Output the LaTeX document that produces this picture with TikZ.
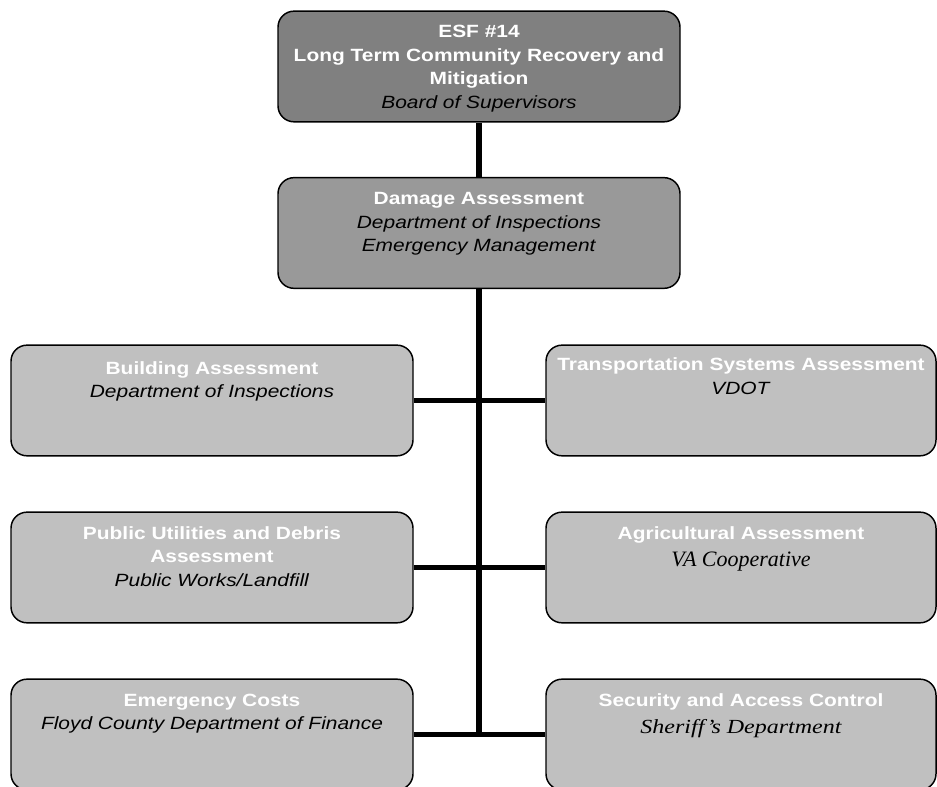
\documentclass[tikz,border=0pt]{standalone}
\usepackage{fontspec}
\setmainfont{Liberation Sans}[FakeStretch=1.18]
\newfontfamily\timesfont{Liberation Serif}[FakeStretch=1.2]
\newfontfamily\timesplain{Liberation Serif}
\usetikzlibrary{positioning}
\definecolor{esfdark}{RGB}{128,128,128}
\definecolor{esfmid}{RGB}{153,153,153}
\definecolor{esflight}{RGB}{192,192,192}
\newcommand\esfhead[1]{\textcolor{white}{\textbf{#1}}}
\newcommand\esfdept[1]{\textit{#1}}
\newcommand\esfserif[1]{{\timesfont\itshape\fontsize{15}{17.6}\selectfont #1}}
\newcommand\esfcoop[1]{{\timesplain\itshape\fontsize{16.5}{17.6}\selectfont #1}}

\tikzset{
  unitbox/.style={draw, rounded corners=12pt, line width=1.1pt, inner sep=0pt,
    minimum height=83pt, minimum width=301.5pt, fill=esflight},
  rightbox/.style={unitbox, minimum width=292.5pt},
  lbl/.style={anchor=north, align=center, inner sep=0pt,
    font=\fontsize{13.3}{17.6}\selectfont},
  link/.style={line width=3.8pt}
}

\begin{document}
\begin{tikzpicture}[x=0.75pt,y=0.75pt]
    \useasboundingbox (0,0) rectangle (937,787);

    % Head of the chart
    \node[unitbox, fill=esfdark] (esf) at (479,720.5) {};
    \node[unitbox, fill=esfmid] (dmg) at (479,554) {};

    % Assessment units
    \node[unitbox] (bldg) at (212,386.5) {};
    \node[rightbox] (trans) at (741,386.5) {};
    \node[unitbox] (util) at (212,219.5) {};
    \node[rightbox] (agri) at (741,219.5) {};
    \node[unitbox] (cost) at (212,52.5) {};
    \node[rightbox] (sec) at (741,52.5) {};

    % Texts
    \node[lbl, below=11pt of esf.north] (esftxt)
        {\esfhead{ESF \#14}\\ \esfhead{Long Term Community Recovery and}\\
         \esfhead{Mitigation}\\ \esfdept{Board of Supervisors}};
    \node[lbl, below=11.5pt of dmg.north] (dmgtxt)
        {\esfhead{Damage Assessment}\\ \esfdept{Department of Inspections}\\
         \esfdept{Emergency Management}};
    \node[lbl, below=12.5pt of bldg.north] (bldgtxt)
        {\esfhead{Building Assessment}\\ \esfdept{Department of Inspections}};
    \node[lbl, below=10pt of trans.north] (transtxt)
        {\esfhead{Transportation Systems Assessment}\\ \esfdept{VDOT}};
    \node[lbl, below=11pt of util.north] (utiltxt)
        {\esfhead{Public Utilities and Debris}\\ \esfhead{Assessment}\\
         \esfdept{Public Works/Landfill}};
    \node[lbl, below=11pt of agri.north] (agritxt)
        {\esfhead{Agricultural Assessment}\\[2.5pt] \esfcoop{VA Cooperative}};
    \node[lbl, below=11.5pt of cost.north] (costtxt)
        {\esfhead{Emergency Costs}\\ \esfdept{Floyd County Department of Finance}};
    \node[lbl, below=11.5pt of sec.north] (sectxt)
        {\esfhead{Security and Access Control}\\[2pt] \esfserif{Sheriff’s Department}};

    % Connectors
    \coordinate (spine) at (dmg.south |- cost.east);
    \draw[link] (esf.south) -- (dmg.north);
    \draw[link] (dmg.south) -- ([yshift=-1.9pt]spine);
    \draw[link] (bldg.east) -- (trans.west);
    \draw[link] (util.east) -- (agri.west);
    \draw[link] (cost.east) -- (sec.west);
\end{tikzpicture}
\end{document}
